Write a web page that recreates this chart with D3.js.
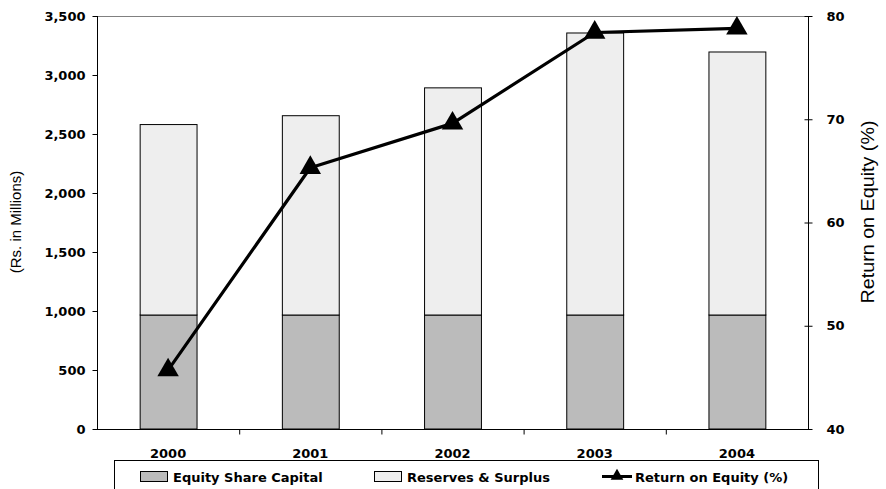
<!DOCTYPE html>
<html>
<head>
<meta charset="utf-8">
<script src="https://cdn.jsdelivr.net/npm/d3@7"></script>
<style>
  html, body { margin: 0; padding: 0; background: #fff; }
  svg { display: block; }
</style>
</head>
<body>
<svg id="chart" width="886" height="489"></svg>
<script>
// Shareholders' funds and return on equity, 2000–2004
const years = ["2000", "2001", "2002", "2003", "2004"];
const equityShareCapital = [966, 966, 966, 966, 966];
const reservesSurplus = [1614, 1689, 1925, 2390, 2229];
const returnOnEquity = [45.7, 65.3, 69.6, 78.4, 78.8];
const leftTicks = [0, 500, 1000, 1500, 2000, 2500, 3000, 3500];
const rightTicks = [40, 50, 60, 70, 80];

const svg = d3.select("#chart");
const m = { left: 97, right: 808, top: 16, bottom: 429 };

const x = d3.scaleBand().domain(years).range([m.left, m.right]).paddingInner(0.6).paddingOuter(0.3);
const xb = d3.scaleBand().domain(years).range([m.left, m.right]);
const yL = d3.scaleLinear().domain([0, 3500]).range([m.bottom, m.top]);
const yR = d3.scaleLinear().domain([40, 80]).range([m.bottom, m.top]);

const boldFont = "DejaVu Sans, Verdana, sans-serif";

// top frame line
svg.append("line")
  .attr("x1", m.left).attr("x2", m.right)
  .attr("y1", m.top + 0.5).attr("y2", m.top + 0.5)
  .attr("stroke", "#808080").attr("stroke-width", 1);

// stacked bars
const stacks = years.map((yr, i) => ({ yr, eq: equityShareCapital[i], rs: reservesSurplus[i] }));
const barG = svg.append("g");
stacks.forEach(d => {
  barG.append("rect")
    .attr("x", x(d.yr) + 0.5).attr("width", x.bandwidth())
    .attr("y", yL(d.eq)).attr("height", yL(0) - yL(d.eq))
    .attr("fill", "#bbbbbb").attr("stroke", "#000").attr("stroke-width", 1);
  barG.append("rect")
    .attr("x", x(d.yr) + 0.5).attr("width", x.bandwidth())
    .attr("y", yL(d.eq + d.rs)).attr("height", yL(d.eq) - yL(d.eq + d.rs))
    .attr("fill", "#eeeeee").attr("stroke", "#000").attr("stroke-width", 1);
});

// left axis
const gL = svg.append("g").attr("transform", `translate(${m.left + 0.5},0)`)
  .call(d3.axisLeft(yL).tickValues(leftTicks).tickSize(5).tickPadding(7)
    .tickFormat(d3.format(",")));
// right axis
const gR = svg.append("g").attr("transform", `translate(${m.right + 0.5},0)`)
  .call(d3.axisRight(yR).tickValues(rightTicks).tickSize(4).tickPadding(14));
gR.selectAll(".tick line").attr("x1", -4);
// bottom axis with ticks at category boundaries
const gB = svg.append("g").attr("transform", `translate(0,${m.bottom + 0.5})`);
gB.append("line").attr("x1", m.left).attr("x2", m.right).attr("stroke", "#000");
gB.selectAll(".bt").data(years.slice(1)).enter().append("line")
  .attr("x1", d => xb(d) + 0.5).attr("x2", d => xb(d) + 0.5)
  .attr("y1", 0).attr("y2", 5).attr("stroke", "#000");
gB.selectAll(".bl").data(years).enter().append("text")
  .attr("x", d => xb(d) + xb.bandwidth() / 2).attr("y", 28)
  .attr("text-anchor", "middle")
  .attr("font-family", boldFont).attr("font-weight", "bold").attr("font-size", 13)
  .text(d => d);

[gL, gR].forEach(g => {
  g.select(".domain").attr("stroke", "#000");
  g.selectAll(".tick line").attr("stroke", "#000");
  g.selectAll(".tick text")
    .attr("font-family", boldFont).attr("font-weight", "bold").attr("font-size", 13).attr("fill", "#000");
});
gL.select(".domain").attr("d", `M0,${m.top}V${m.bottom}`);
gR.select(".domain").attr("d", `M0,${m.top}V${m.bottom}`);

// axis titles
svg.append("text")
  .attr("transform", `translate(21,222) rotate(-90)`)
  .attr("text-anchor", "middle")
  .attr("font-family", "Liberation Sans, Arial, sans-serif").attr("font-size", 15)
  .text("(Rs. in Millions)");
svg.append("text")
  .attr("transform", `translate(874,212) rotate(-90)`)
  .attr("text-anchor", "middle")
  .attr("font-family", "Liberation Sans, Arial, sans-serif").attr("font-size", 18)
  .attr("textLength", 183).attr("lengthAdjust", "spacingAndGlyphs")
  .text("Return on Equity (%)");

// return on equity line
const pts = years.map((yr, i) => [xb(yr) + xb.bandwidth() / 2, yR(returnOnEquity[i])]);
svg.append("path")
  .attr("d", d3.line()(pts))
  .attr("fill", "none").attr("stroke", "#000").attr("stroke-width", 3.2)
  .attr("stroke-linejoin", "round");
const tri = d3.symbol().type(d3.symbolTriangle).size(200);
svg.selectAll(".mk").data(pts).enter().append("path")
  .attr("d", tri)
  .attr("transform", d => `translate(${d[0]},${d[1]})`)
  .attr("fill", "#000");

// legend
const lg = svg.append("g");
lg.append("rect").attr("x", 114.5).attr("y", 460.5).attr("width", 704).attr("height", 40)
  .attr("fill", "#fff").attr("stroke", "#000").attr("stroke-width", 1);
const legendItems = [
  { label: "Equity Share Capital", fill: "#bbbbbb", x: 140 },
  { label: "Reserves & Surplus", fill: "#eeeeee", x: 374 }
];
legendItems.forEach(it => {
  lg.append("rect").attr("x", it.x + 0.5).attr("y", 471.5).attr("width", 27).attr("height", 10)
    .attr("fill", it.fill).attr("stroke", "#000");
  lg.append("text").attr("x", it.x + 33).attr("y", 482)
    .attr("font-family", boldFont).attr("font-weight", "bold").attr("font-size", 13)
    .text(it.label);
});
lg.append("line").attr("x1", 602).attr("x2", 632).attr("y1", 476.5).attr("y2", 476.5)
  .attr("stroke", "#000").attr("stroke-width", 3);
lg.append("path").attr("d", d3.symbol().type(d3.symbolTriangle).size(70))
  .attr("transform", "translate(617,476)").attr("fill", "#000");
lg.append("text").attr("x", 635).attr("y", 482)
  .attr("font-family", boldFont).attr("font-weight", "bold").attr("font-size", 13)
  .text("Return on Equity (%)");
</script>
</body>
</html>
